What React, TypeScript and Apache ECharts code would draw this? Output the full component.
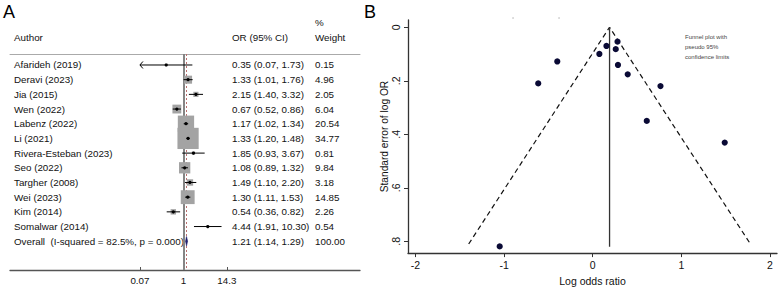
import React, { useEffect, useRef } from "react";
import * as echarts from "echarts";

// ---------- Panel A: forest plot data ----------
const authors = [
  "Afarideh (2019)",
  "Deravi (2023)",
  "Jia (2015)",
  "Wen (2022)",
  "Labenz (2022)",
  "Li (2021)",
  "Rivera-Esteban (2023)",
  "Seo (2022)",
  "Targher (2008)",
  "Wei (2023)",
  "Kim (2014)",
  "Somalwar (2014)",
];
const oddsRatios = [0.35, 1.33, 2.15, 0.67, 1.17, 1.33, 1.85, 1.08, 1.49, 1.3, 0.54, 4.44];
const ciLower = [0.07, 1.01, 1.4, 0.52, 1.02, 1.2, 0.93, 0.89, 1.1, 1.11, 0.36, 1.91];
const ciUpper = [1.73, 1.76, 3.32, 0.86, 1.34, 1.48, 3.67, 1.32, 2.2, 1.53, 0.82, 10.3];
const weights = [0.15, 4.96, 2.05, 6.04, 20.54, 34.77, 0.81, 9.84, 3.18, 14.85, 2.26, 0.54];
const overallLabel = "Overall  (I-squared = 82.5%, p = 0.000)";
const overallOR = 1.21;
const overallLower = 1.14;
const overallUpper = 1.29;
const overallWeight = 100.0;
const forestTicks = [0.07, 1, 14.3];

// ---------- Panel B: funnel plot data ----------
const funnelLogOR = [0.28, 0.155, 0.26, 0.075, -0.4, 0.285, 0.395, -0.615, 0.765, 0.61, 1.49, -1.05];
const funnelSE = [0.054, 0.07, 0.082, 0.1, 0.128, 0.141, 0.176, 0.21, 0.22, 0.35, 0.431, 0.819];
const pooledLogOR = 0.19;
const pooledLineSE = [0, 0.82];
const limitX = [-1.4, 0.19, 1.78];
const limitY = [0.81, 0, 0.81];
const funnelXTicks = [-2, -1, 0, 1, 2];
const funnelYTicks = [0, 0.2, 0.4, 0.6, 0.8];

const FONT = "'Liberation Sans', Arial, Helvetica, sans-serif";
const NARROW = "'Liberation Sans Narrow', 'Arial Narrow', 'Liberation Sans', Arial, sans-serif";

export default function App() {
  const ref = useRef<HTMLDivElement>(null);

  useEffect(() => {
    if (!ref.current) return;
    const chart = echarts.init(ref.current, undefined, { renderer: "svg" });

    const log10 = (v: number) => Math.log10(v);
    const rowLabels = [...authors, overallLabel];
    const allOR = [...oddsRatios, overallOR];
    const allLo = [...ciLower, overallLower];
    const allHi = [...ciUpper, overallUpper];
    const allW = [...weights, overallWeight];
    const orText = allOR.map(
      (v, i) => `${v.toFixed(2)} (${allLo[i].toFixed(2)}, ${allHi[i].toFixed(2)})`
    );
    const wText = allW.map((w) => w.toFixed(2));
    const rows = rowLabels.map((_, i) => i);

    const yMin = -0.749;
    const yMax = 13.96;
    const xMin = -4.606;
    const xMax = 4.691;
    const clipLo = log10(forestTicks[0]);
    const clipHi = log10(forestTicks[forestTicks.length - 1]);

    const studyData = oddsRatios.map((v, i) => [
      log10(v),
      i,
      log10(ciLower[i]),
      log10(ciUpper[i]),
      weights[i],
    ]);
    const overallData = [[log10(overallOR), authors.length, log10(overallLower), log10(overallUpper)]];

    const forestTickLabel = (v: number) => {
      const t = forestTicks.find((k) => Math.abs(log10(k) - v) < 1e-6);
      return t === undefined ? "" : String(t);
    };

    const labelStyle = { fontFamily: FONT, fontSize: 9.8, color: "#111" };

    const option: any = {
      animation: false,
      textStyle: { fontFamily: FONT },
      grid: [
        { left: 10, right: 419, top: 54, bottom: 21 },
        { left: 408, right: 2, top: 20, bottom: 31 },
      ],
      xAxis: [
        {
          gridIndex: 0,
          type: "value",
          min: xMin,
          max: xMax,
          position: "bottom",
          splitLine: { show: false },
          axisLine: { show: true, onZero: false, lineStyle: { color: "#555", width: 1.3 } },
          axisTick: {
            show: true,
            inside: true,
            length: 3,
            customValues: forestTicks.map(log10),
            lineStyle: { color: "#555" },
          },
          axisLabel: {
            ...labelStyle,
            customValues: forestTicks.map(log10),
            formatter: forestTickLabel,
            margin: 5,
          },
        },
        {
          gridIndex: 0,
          type: "value",
          min: xMin,
          max: xMax,
          position: "top",
          splitLine: { show: false },
          axisLine: { show: true, onZero: false, lineStyle: { color: "#aaa", width: 1 } },
          axisTick: { show: false },
          axisLabel: { show: false },
        },
        {
          gridIndex: 1,
          type: "value",
          min: -2.085,
          max: 2.08,
          splitLine: { show: false },
          axisLine: { show: true, onZero: false, lineStyle: { color: "#333", width: 1.3 } },
          axisTick: { show: true, length: 4, customValues: funnelXTicks, lineStyle: { color: "#333" } },
          axisLabel: {
            customValues: funnelXTicks,
            formatter: (v: number) => String(v),
            fontFamily: NARROW,
            fontSize: 10.5,
            color: "#111",
            margin: 6,
          },
          name: "Log odds ratio",
          nameLocation: "middle",
          nameGap: 18,
          nameTextStyle: { fontFamily: NARROW, fontSize: 10.5, color: "#111" },
        },
      ],
      yAxis: [
        {
          gridIndex: 0,
          type: "value",
          inverse: true,
          min: yMin,
          max: yMax,
          splitLine: { show: false },
          axisLine: { show: false },
          axisTick: { show: false },
          axisLabel: {
            ...labelStyle,
            customValues: rows,
            formatter: (v: number) => rowLabels[Math.round(v)] ?? "",
            align: "left",
            margin: -4,
          },
        },
        {
          gridIndex: 0,
          type: "value",
          position: "right",
          offset: -128,
          inverse: true,
          min: yMin,
          max: yMax,
          splitLine: { show: false },
          axisLine: { show: false },
          axisTick: { show: false },
          axisLabel: {
            ...labelStyle,
            customValues: rows,
            formatter: (v: number) => orText[Math.round(v)] ?? "",
            align: "left",
            margin: 0,
          },
        },
        {
          gridIndex: 0,
          type: "value",
          position: "right",
          offset: -45,
          inverse: true,
          min: yMin,
          max: yMax,
          splitLine: { show: false },
          axisLine: { show: false },
          axisTick: { show: false },
          axisLabel: {
            ...labelStyle,
            customValues: rows,
            formatter: (v: number) => wText[Math.round(v)] ?? "",
            align: "left",
            margin: 0,
          },
        },
        {
          gridIndex: 1,
          type: "value",
          inverse: true,
          min: -0.027,
          max: 0.844,
          splitLine: { show: false },
          axisLine: { show: true, onZero: false, lineStyle: { color: "#333", width: 1.3 } },
          axisTick: { show: true, length: 4, customValues: funnelYTicks, lineStyle: { color: "#333" } },
          axisLabel: {
            customValues: funnelYTicks,
            rotate: 90,
            formatter: (v: number) => (v === 0 ? "0" : v.toFixed(1).replace(/^0/, "")),
            fontFamily: FONT,
            fontSize: 10.5,
            color: "#111",
            margin: 7,
          },
          name: "Standard error of log OR",
          nameLocation: "middle",
          nameGap: 18,
          nameTextStyle: { fontFamily: FONT, fontSize: 10.2, color: "#111" },
        },
      ],
      series: [
        {
          type: "line",
          xAxisIndex: 0,
          yAxisIndex: 0,
          data: [],
          z: 1,
          silent: true,
          markLine: {
            z: 1,
            symbol: "none",
            silent: true,
            label: { show: false },
            data: [
              { xAxis: 0, lineStyle: { color: "#858585", width: 2, type: "solid" } },
              { xAxis: log10(overallOR), lineStyle: { color: "#b87070", width: 1, type: [2, 2] } },
            ],
          },
        },
        {
          type: "custom",
          xAxisIndex: 0,
          yAxisIndex: 0,
          z: 3,
          clip: false,
          data: studyData,
          renderItem: (params: any, api: any) => {
            const x = api.value(0);
            const row = api.value(1);
            const lo = Math.max(api.value(2), clipLo);
            const hi = Math.min(api.value(3), clipHi);
            const w = api.value(4);
            const c = api.coord([x, row]);
            const pLo = api.coord([lo, row]);
            const pHi = api.coord([hi, row]);
            const s = 3.6 * Math.sqrt(w);
            const children: any[] = [
              {
                type: "rect",
                shape: { x: c[0] - s / 2, y: c[1] - s / 2, width: s, height: s },
                style: { fill: "#a3a3a3" },
              },
              {
                type: "line",
                shape: { x1: pLo[0], y1: c[1], x2: pHi[0], y2: c[1] },
                style: { stroke: "#000", lineWidth: 1 },
              },
              {
                type: "circle",
                shape: { cx: c[0], cy: c[1], r: 1.6 },
                style: { fill: "#000" },
              },
            ];
            if (api.value(2) <= clipLo + 1e-9) {
              children.push({
                type: "polyline",
                shape: {
                  points: [
                    [pLo[0] + 3, c[1] - 3.5],
                    [pLo[0], c[1]],
                    [pLo[0] + 3, c[1] + 3.5],
                  ],
                },
                style: { stroke: "#000", lineWidth: 1, fill: "none" },
              });
            }
            return { type: "group", children };
          },
        },
        {
          type: "custom",
          xAxisIndex: 0,
          yAxisIndex: 0,
          z: 3,
          clip: false,
          data: overallData,
          renderItem: (params: any, api: any) => {
            const row = api.value(1);
            const c = api.coord([api.value(0), row]);
            const l = api.coord([api.value(2), row]);
            const r = api.coord([api.value(3), row]);
            return {
              type: "polygon",
              shape: {
                points: [
                  [l[0], c[1]],
                  [c[0], c[1] - 4.7],
                  [r[0], c[1]],
                  [c[0], c[1] + 4.7],
                ],
              },
              style: { fill: "#22226e", stroke: "#22226e", lineWidth: 0.6 },
            };
          },
        },
        {
          type: "line",
          xAxisIndex: 2,
          yAxisIndex: 3,
          data: limitX.map((x, i) => [x, limitY[i]]),
          symbol: "none",
          silent: true,
          lineStyle: { color: "#111", width: 1.2, type: [5, 3.5] },
          z: 2,
        },
        {
          type: "line",
          xAxisIndex: 2,
          yAxisIndex: 3,
          data: pooledLineSE.map((se) => [pooledLogOR, se]),
          symbol: "none",
          silent: true,
          lineStyle: { color: "#333", width: 1.3 },
          z: 2,
        },
        {
          type: "scatter",
          xAxisIndex: 2,
          yAxisIndex: 3,
          data: funnelLogOR.map((x, i) => [x, funnelSE[i]]),
          symbol: "circle",
          symbolSize: 6.2,
          itemStyle: { color: "#0a0a35", opacity: 1 },
          z: 3,
        },
      ],
      graphic: [
        { type: "text", left: 3, top: 3, style: { text: "A", font: `18px ${FONT}`, fill: "#000" } },
        { type: "text", left: 364, top: 3, style: { text: "B", font: `18px ${FONT}`, fill: "#000" } },
        {
          type: "text",
          left: 14,
          top: 32,
          style: { text: "Author", font: `9.8px ${FONT}`, fill: "#111" },
        },
        {
          type: "text",
          left: 232,
          top: 32,
          style: { text: "OR (95% CI)", font: `9.8px ${FONT}`, fill: "#111" },
        },
        {
          type: "text",
          left: 315,
          top: 17,
          style: { text: "%", font: `9.8px ${FONT}`, fill: "#111" },
        },
        {
          type: "text",
          left: 315,
          top: 32,
          style: { text: "Weight", font: `9.8px ${FONT}`, fill: "#111" },
        },
        {
          type: "text",
          left: 685,
          top: 32,
          style: {
            text: "Funnel plot with\npseudo 95%\nconfidence limits",
            font: `6px ${FONT}`,
            lineHeight: 9.8,
            fill: "#444",
          },
        },
        { type: "circle", shape: { cx: 513, cy: 18, r: 0.7 }, style: { fill: "#aaa" } },
        { type: "circle", shape: { cx: 559, cy: 18, r: 0.7 }, style: { fill: "#aaa" } },
      ],
    };

    chart.setOption(option);
    return () => chart.dispose();
  }, []);

  return (
    <div
      ref={ref}
      style={{ position: "fixed", left: 0, top: 0, width: 779, height: 291, background: "#fff" }}
    />
  );
}
